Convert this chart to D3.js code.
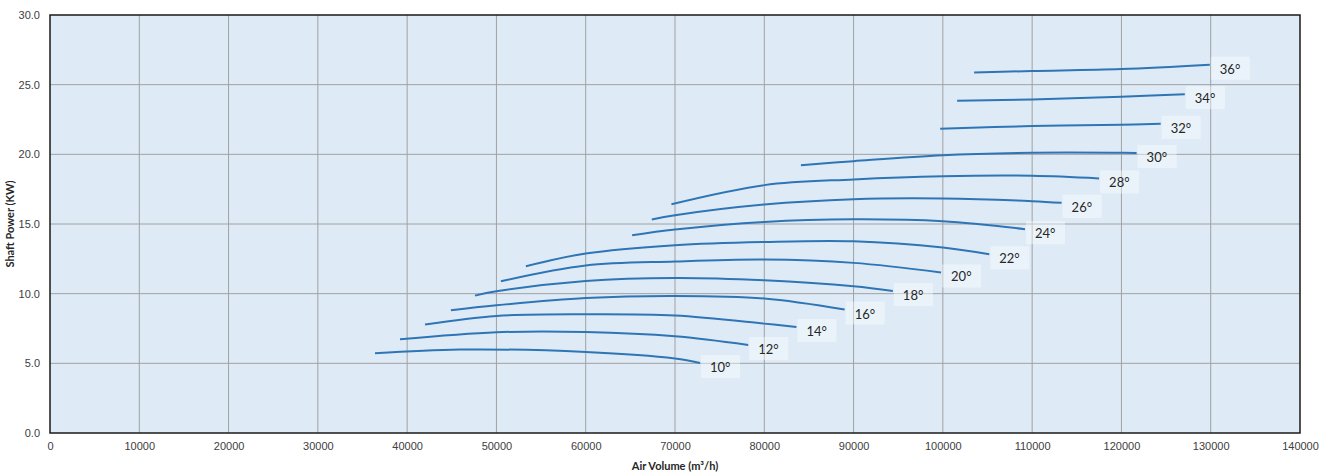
<!DOCTYPE html>
<html lang="en">
<head>
    <meta charset="UTF-8">
    <title>Shaft Power vs Air Volume</title>
    <style>
        body {
            margin: 0;
            background: #fff;
            font-family: Lato, "Open Sans", sans-serif;
        }
        .tick text {
            font-size: 11px;
            fill: #404040;
        }
        .grid line {
            stroke: #a0a0a0;
            stroke-width: 1px;
        }
        .curve {
            fill: none;
            stroke: #2e75b6;
            stroke-width: 2px;
        }
        .lbl-box {
            fill: #ffffff;
            fill-opacity: 0.4;
        }
        .lbl text {
            font-size: 13px;
            fill: #262626;
        }
        .axis-title {
            font-size: 11px;
            font-weight: bold;
            fill: #262626;
        }
    </style>
</head>
<body>
<div id="chart"></div>
<script src="https://d3js.org/d3.v7.min.js"></script>
<script>
    // blade angles
    const angles = ["10°", "12°", "14°", "16°", "18°", "20°", "22°", "24°", "26°", "28°", "30°", "32°", "34°", "36°"];

    // air volume (m3/h) points per curve
    const airVolume = [
        [36400, 45900, 60000, 70000, 72800],
        [39200, 50000, 60000, 70000, 78200],
        [42000, 50000, 60000, 70000, 80000, 83600],
        [44900, 50000, 60000, 70000, 80000, 89000],
        [47600, 50000, 60000, 70000, 80000, 90000, 94400],
        [50500, 60000, 70000, 80000, 90000, 99800],
        [53300, 60000, 70000, 80000, 90000, 100000, 105200],
        [65200, 70000, 80000, 90000, 100000, 109200],
        [67400, 70000, 80000, 90000, 100000, 110000, 113300],
        [69600, 80000, 90000, 100000, 110000, 117500],
        [84100, 90000, 100000, 110000, 120000, 121700],
        [99700, 110000, 120000, 124400],
        [101600, 110000, 120000, 127100],
        [103500, 110000, 120000, 129900]
    ];

    // shaft power (kW) matching the points above
    const shaftPower = [
        [5.72, 5.99, 5.81, 5.34, 5.02],
        [6.72, 7.23, 7.25, 6.94, 6.32],
        [7.78, 8.40, 8.52, 8.43, 7.85, 7.61],
        [8.81, 9.17, 9.69, 9.84, 9.65, 8.86],
        [9.86, 10.17, 10.91, 11.13, 10.96, 10.53, 10.19],
        [10.89, 12.02, 12.31, 12.45, 12.21, 11.52],
        [11.97, 12.88, 13.48, 13.71, 13.76, 13.31, 12.83],
        [14.19, 14.60, 15.15, 15.34, 15.20, 14.63],
        [15.32, 15.63, 16.40, 16.78, 16.83, 16.64, 16.52],
        [16.42, 17.79, 18.20, 18.43, 18.46, 18.27],
        [19.22, 19.51, 19.94, 20.11, 20.11, 20.10],
        [21.83, 22.03, 22.12, 22.19],
        [23.84, 23.94, 24.13, 24.32],
        [25.88, 25.98, 26.12, 26.43]
    ];

    const xTicks = d3.range(0, 140001, 10000);
    const yTicks = [0, 5, 10, 15, 20, 25, 30];

    const width = 1326;
    const height = 476;
    const margin = { top: 15, right: 26, bottom: 43, left: 50 };

    const svg = d3.select("#chart")
        .append("svg")
        .attr("width", width)
        .attr("height", height);

    const x = d3.scaleLinear()
        .domain([0, 140000])
        .range([margin.left, width - margin.right]);

    const y = d3.scaleLinear()
        .domain([0, 30])
        .range([height - margin.bottom, margin.top]);

    // plot background
    svg.append("rect")
        .attr("x", x(0))
        .attr("y", y(30))
        .attr("width", x(140000) - x(0))
        .attr("height", y(0) - y(30))
        .attr("fill", "#deebf7");

    // grid
    const grid = svg.append("g").attr("class", "grid");
    grid.selectAll(".vx")
        .data(xTicks.slice(1, -1))
        .enter()
        .append("line")
        .attr("x1", d => x(d)).attr("x2", d => x(d))
        .attr("y1", y(30)).attr("y2", y(0));
    grid.selectAll(".hy")
        .data(yTicks.slice(1, -1))
        .enter()
        .append("line")
        .attr("x1", x(0)).attr("x2", x(140000))
        .attr("y1", d => y(d)).attr("y2", d => y(d));

    // frame
    svg.append("rect")
        .attr("x", x(0))
        .attr("y", y(30))
        .attr("width", x(140000) - x(0))
        .attr("height", y(0) - y(30))
        .attr("fill", "none")
        .attr("stroke", "#1a1a1a")
        .attr("stroke-width", 1.5);

    // axes
    const xAxis = svg.append("g")
        .attr("transform", `translate(0,${y(0)})`)
        .call(d3.axisBottom(x).tickValues(xTicks).tickFormat(d3.format("d")).tickSize(0).tickPadding(9));
    xAxis.select(".domain").remove();

    const yAxis = svg.append("g")
        .attr("transform", `translate(${x(0)},0)`)
        .call(d3.axisLeft(y).tickValues(yTicks).tickFormat(d3.format(".1f")).tickSize(0).tickPadding(10));
    yAxis.select(".domain").remove();

    svg.append("text")
        .attr("class", "axis-title")
        .attr("x", (x(0) + x(140000)) / 2)
        .attr("y", height - 6)
        .attr("text-anchor", "middle")
        .text("Air Volume (m³/h)");

    svg.append("text")
        .attr("class", "axis-title")
        .attr("transform", `translate(14,${(y(0) + y(30)) / 2}) rotate(-90)`)
        .attr("text-anchor", "middle")
        .text("Shaft Power (KW)");

    // curves
    const line = d3.line()
        .x(d => x(d[0]))
        .y(d => y(d[1]))
        .curve(d3.curveCatmullRom.alpha(0.5));

    const series = angles.map((a, i) => ({
        name: a,
        pts: airVolume[i].map((v, j) => [v, shaftPower[i][j]])
    }));

    svg.selectAll(".curve")
        .data(series)
        .enter()
        .append("path")
        .attr("class", "curve")
        .attr("d", d => line(d.pts));

    // end labels
    const lbl = svg.selectAll(".lbl")
        .data(series)
        .enter()
        .append("g")
        .attr("class", "lbl")
        .attr("transform", d => {
            const last = d.pts[d.pts.length - 1];
            return `translate(${x(last[0]) + 1},${y(last[1])})`;
        });

    lbl.append("rect")
        .attr("class", "lbl-box")
        .attr("x", 0)
        .attr("y", -8)
        .attr("width", 39)
        .attr("height", 23);

    lbl.append("text")
        .attr("x", 9)
        .attr("y", 9)
        .text(d => d.name);
</script>
</body>
</html>
